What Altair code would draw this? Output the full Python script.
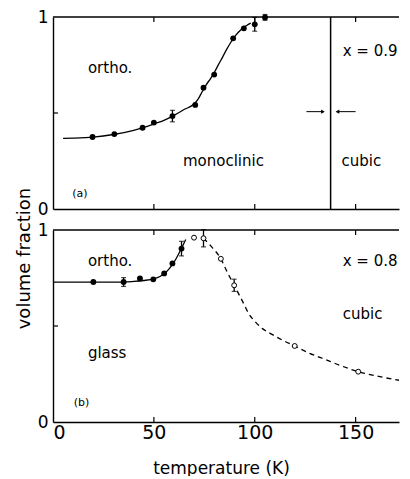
import altair as alt
import pandas as pd

FONT = "DejaVu Sans"

# ---------------- panel (a) x = 0.9 ----------------
a_T = [19.6, 30.4, 44.4, 50.0, 59.2, 70.5, 74.6, 79.9, 89.3, 94.6, 100.0, 105.1]
a_v = [0.375, 0.39, 0.423, 0.45, 0.484, 0.542, 0.632, 0.70, 0.889, 0.941, 0.962, 0.998]
a_err_T = [59.2, 100.0, 105.1]
a_err_v = [0.484, 0.962, 0.998]
a_err_d = [0.03, 0.036, 0.015]
ca_T = [5, 10, 20, 30, 40, 45, 50, 55, 60, 65, 70, 72, 74, 76, 78, 80, 82, 84, 86, 88, 90, 92, 94, 96, 98]
ca_v = [0.368, 0.369, 0.374, 0.388, 0.41, 0.425, 0.443, 0.462, 0.488, 0.518, 0.548, 0.574, 0.612,
        0.648, 0.678, 0.712, 0.752, 0.79, 0.83, 0.866, 0.897, 0.922, 0.942, 0.956, 0.968]
a_boundary_T = 137.6

# ---------------- panel (b) x = 0.8 ----------------
b_T = [20.0, 35.0, 43.1, 49.7, 55.1, 59.2, 63.7]
b_v = [0.729, 0.729, 0.748, 0.743, 0.774, 0.826, 0.903]
b_err_T = [35.0, 63.7]
b_err_v = [0.729, 0.903]
b_err_d = [0.023, 0.038]
bo_T = [69.9, 74.6, 83.2, 89.8, 119.8, 151.3]
bo_v = [0.96, 0.957, 0.85, 0.712, 0.396, 0.262]
bo_err_T = [74.6, 89.8]
bo_err_v = [0.957, 0.712]
bo_err_d = [0.045, 0.032]
cb_T = [0, 20, 35, 40, 45, 50, 53, 56, 59, 61, 63, 65.8]
cb_v = [0.729, 0.729, 0.729, 0.732, 0.737, 0.746, 0.758, 0.78, 0.817, 0.85, 0.89, 0.951]
cd_T = [74.6, 78.2, 83.2, 86.5, 89.8, 94.7, 97, 100, 104, 108.8, 114, 119.8, 126, 133.5, 142, 151.3, 162, 175]
cd_v = [0.957, 0.917, 0.85, 0.778, 0.712, 0.613, 0.565, 0.525, 0.485, 0.455, 0.425, 0.396, 0.363,
        0.332, 0.296, 0.262, 0.236, 0.211]

x_ticks = [50, 100, 150]
x_labels = [0, 50, 100, 150]

XMAX = 171.5
W, H = 346, 192
xs = alt.Scale(domain=[0, XMAX], nice=False, zero=False)
ys = alt.Scale(domain=[0, 1], nice=False, zero=False)


def panel(pts, errs, curves, texts, extra, bottom):
    if bottom:
        xax = alt.Axis(values=x_labels, ticks=False, labelPadding=1, labelFontSize=19,
                       labelFont=FONT, labelColor="black", format="d", grid=False,
                       title="temperature (K)", titleFont=FONT, titleFontSize=17,
                       titleFontWeight="normal", titleColor="black",
                       titleX=168, titleY=46, titleAlign="center", titleBaseline="middle")
        yax = alt.Axis(values=[0, 1], ticks=False, labelPadding=5, labelFontSize=17,
                       labelFont=FONT, labelColor="black", format="d", grid=False,
                       title="volume fraction", titleFont=FONT, titleFontSize=18,
                       titleFontWeight="normal", titleColor="black", titleAngle=270,
                       titleX=-29, titleY=28, titleAlign="center", titleBaseline="middle")
    else:
        xax = alt.Axis(labels=False, ticks=False, grid=False, title=None)
        yax = alt.Axis(values=[0, 1], ticks=False, labelPadding=5, labelFontSize=17,
                       labelFont=FONT, labelColor="black", format="d", grid=False, title=None)

    def X(f):
        return alt.X(f, type="quantitative", scale=xs, axis=xax)

    def Y(f):
        return alt.Y(f, type="quantitative", scale=ys, axis=yax)

    layers = []
    top = pd.DataFrame({"x0": [0], "x1": [XMAX], "v": [1]})
    layers.append(alt.Chart(top).mark_rule(color="black", strokeWidth=1.4).encode(
        x=X("x0"), x2="x1", y=Y("v")))
    tk = pd.DataFrame({"t": x_ticks})
    layers.append(alt.Chart(tk).mark_rule(color="black", strokeWidth=1.2).encode(
        x=X("t"), y=alt.value(0), y2=alt.value(5)))
    layers.append(alt.Chart(tk).mark_rule(color="black", strokeWidth=1.2).encode(
        x=X("t"), y=alt.value(H - 5), y2=alt.value(H)))
    yt = pd.DataFrame({"t": [0.5]})
    layers.append(alt.Chart(yt).mark_rule(color="black", strokeWidth=1.2).encode(
        x=alt.value(0), x2=alt.value(5), y=Y("t")))
    layers += extra(X, Y)
    for (cT, cv, dash) in curves:
        df = pd.DataFrame({"T": cT, "v": cv, "o": list(range(len(cT)))})
        kw = dict(color="black", strokeWidth=1.3, interpolate="monotone", clip=True)
        if dash:
            kw["strokeDash"] = [5, 4]
        layers.append(alt.Chart(df).mark_line(**kw).encode(x=X("T"), y=Y("v"), order="o:Q"))
    for (eT, ev, ed) in errs:
        df = pd.DataFrame({"T": eT, "lo": [v - d for v, d in zip(ev, ed)],
                           "hi": [v + d for v, d in zip(ev, ed)]})
        layers.append(alt.Chart(df).mark_rule(color="black", strokeWidth=1.3).encode(
            x=X("T"), y=Y("lo"), y2="hi"))
        for col in ["lo", "hi"]:
            layers.append(alt.Chart(df).mark_tick(color="black", orient="horizontal",
                                                  size=5, thickness=1.2).encode(
                x=X("T"), y=Y(col)))
    for (pT, pv, filled) in pts:
        df = pd.DataFrame({"T": pT, "v": pv})
        if filled:
            m = alt.Chart(df).mark_circle(color="black", size=34, opacity=1)
        else:
            m = alt.Chart(df).mark_point(shape="circle", filled=True, fill="white",
                                         stroke="black", strokeWidth=1, size=24, opacity=1)
        layers.append(m.encode(x=X("T"), y=Y("v")))
    for (txt, tT, tv, fs) in texts:
        df = pd.DataFrame({"T": [tT], "v": [tv], "s": [txt]})
        layers.append(alt.Chart(df).mark_text(align="left", baseline="middle", font=FONT,
                                              fontSize=fs, color="black").encode(
            x=X("T"), y=Y("v"), text="s:N"))
    return alt.layer(*layers).properties(width=W, height=H)


def extra_a(X, Y):
    out = []
    vl = pd.DataFrame({"T": [a_boundary_T], "v0": [0], "v1": [1]})
    out.append(alt.Chart(vl).mark_rule(color="black", strokeWidth=1.5).encode(
        x=X("T"), y=Y("v0"), y2="v1"))
    ar = pd.DataFrame({"x0": [125.6, 140.6], "x1": [134.0, 150.0], "v": [0.507, 0.507]})
    out.append(alt.Chart(ar).mark_rule(color="black", strokeWidth=1).encode(
        x=X("x0"), x2="x1", y=Y("v")))
    hd = pd.DataFrame({"T": [133.8, 141.0], "v": [0.507, 0.507],
                       "sh": ["triangle-right", "triangle-left"]})
    out.append(alt.Chart(hd).mark_point(filled=True, color="black", size=18, opacity=1).encode(
        x=X("T"), y=Y("v"), shape=alt.Shape("sh:N", scale=None)))
    return out


def extra_b(X, Y):
    return []


top_panel = panel(
    pts=[(a_T, a_v, True)],
    errs=[(a_err_T, a_err_v, a_err_d)],
    curves=[(ca_T, ca_v, False)],
    texts=[("ortho.", 17.3, 0.734, 15), ("monoclinic", 64.4, 0.25, 15),
           ("cubic", 143.0, 0.25, 15), ("x = 0.9", 143.6, 0.823, 15), ("(a)", 9.5, 0.078, 11)],
    extra=extra_a, bottom=False)

bottom_panel = panel(
    pts=[(b_T, b_v, True), (bo_T, bo_v, False)],
    errs=[(b_err_T, b_err_v, b_err_d), (bo_err_T, bo_err_v, bo_err_d)],
    curves=[(cb_T, cb_v, False), (cd_T, cd_v, True)],
    texts=[("ortho.", 17.3, 0.838, 15), ("x = 0.8", 143.6, 0.838, 15),
           ("cubic", 143.6, 0.5625, 15), ("glass", 17.3, 0.36, 15), ("(b)", 10.3, 0.1, 11)],
    extra=extra_b, bottom=True)

chart = alt.vconcat(top_panel, bottom_panel, spacing=21, bounds="flush").properties(
    padding={"left": 6, "top": 0, "right": 0, "bottom": 0}
).configure_view(stroke=None).configure_axis(
    domainColor="black", domainWidth=1.4
)

chart.save("out.html", embed_options={"renderer": "svg", "actions": False})
